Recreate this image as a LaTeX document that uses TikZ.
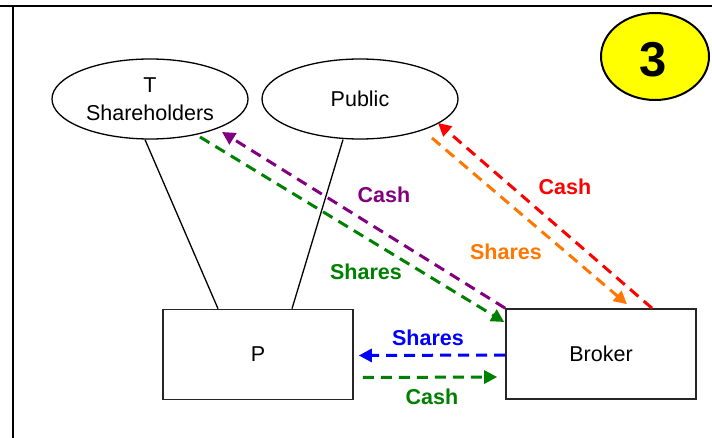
\documentclass[tikz,border=0pt]{standalone}
\usepackage{fontspec}
\setmainfont{Liberation Sans}
\usetikzlibrary{shapes.geometric,arrows.meta}

\definecolor{cpurple}{RGB}{128,0,128}
\definecolor{cgreen}{RGB}{0,128,0}
\definecolor{cred}{RGB}{255,0,0}
\definecolor{corange}{RGB}{255,119,0}
\definecolor{cblue}{RGB}{0,0,255}
\definecolor{cyellow}{RGB}{255,255,0}

\begin{document}
\begin{tikzpicture}[x=1pt,y=-1pt,
  every node/.style={font=\fontsize{21.5}{28}\selectfont},
  party/.style={draw=black,line width=1.3pt,ellipse,minimum width=196pt,minimum height=80pt,inner sep=0pt,align=center},
  boxnode/.style={draw=black!85,line width=1.6pt,rectangle,minimum width=190pt,minimum height=90pt,inner sep=0pt},
  badge/.style={draw=black,line width=2pt,fill=cyellow,ellipse,minimum width=108pt,minimum height=87pt,inner sep=0pt},
  link/.style={draw=black,line width=1.3pt},
  flow/.style={line width=3pt,dash pattern=on 11pt off 7pt,-{Triangle[length=13pt,width=13pt]}},
  lbl/.style={font=\fontsize{21.5}{26}\selectfont\bfseries,inner sep=0pt}]

\useasboundingbox (0,0) rectangle (712,438);

% outer frame
\draw[line width=2.6pt] (0,6) -- (712,6);
\draw[line width=2.6pt] (13,6) -- (13,438);

% parties and boxes
\node[party] (ts) at (150,99) {T\\Shareholders};
\node[party] (pub) at (360,99) {Public};
\node[badge] (num) at (655,56.5) {};
\node[font=\fontsize{49}{56}\selectfont\bfseries,inner sep=0pt] (numtxt) at ([xshift=-1.5pt,yshift=-3pt]num.center) {3};
\node[boxnode] (p) at (258,354.5) {P};
\node[boxnode] (brk) at (601,354) {Broker};

% ownership links
\draw[link] ([xshift=-5pt]ts.south) -- ([xshift=-40pt]p.north);
\draw[link] ([xshift=-17pt]pub.south) -- ([xshift=34pt]p.north);

% flows between the parties
\draw[flow,cpurple] (brk.north west) -- ([xshift=72pt,yshift=-33pt]ts.center);
\draw[flow,cgreen] ([xshift=50pt,yshift=-38pt]ts.center) -- ([xshift=-1pt,yshift=32pt]brk.west);
\draw[flow,cred] ([xshift=51pt]brk.north) -- ([xshift=78pt,yshift=-24pt]pub.center);
\draw[flow,corange] ([xshift=72pt,yshift=-39pt]pub.center) -- ([xshift=26pt,yshift=4pt]brk.north);
\draw[flow,cblue] ([yshift=-1pt]brk.west) -- ([xshift=5pt,yshift=-1pt]p.east);
\draw[flow,cgreen] ([xshift=9pt,yshift=-23pt]p.east) -- ([xshift=-8pt,yshift=-23pt]brk.west);

% flow labels
\node[lbl,text=cpurple] (l1) at (384,195) {Cash};
\node[lbl,text=cgreen] (l2) at (366,272) {Shares};
\node[lbl,text=cred] (l3) at (565,187) {Cash};
\node[lbl,text=corange] (l4) at (506,252) {Shares};
\node[lbl,text=cblue] (l5) at (428,338) {Shares};
\node[lbl,text=cgreen] (l6) at (432,397) {Cash};
\end{tikzpicture}
\end{document}
